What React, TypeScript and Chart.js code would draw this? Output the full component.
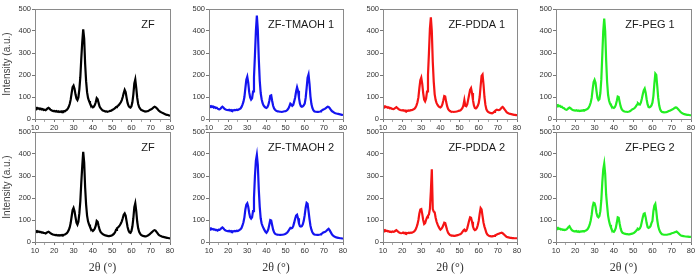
import { useEffect, useRef } from "react";
import { Chart, registerables } from "chart.js";

Chart.register(...registerables);

// Scan grid: 2θ from 10° to 80° in 0.5° steps
const SCAN_START = 10;
const SCAN_STEP = 0.5;

const yTicks = [0, 100, 200, 300, 400, 500];
const xTickLabels = [10, 20, 30, 40, 50, 60, 70, 80];

// Intensity (a.u.) per scan step
const zf1 = [
  52, 48, 51, 47, 49, 45, 47, 43, 45, 41,
  42, 40, 44, 48, 51, 47, 43, 40, 38, 36,
  37, 34, 36, 33, 35, 32, 34, 32, 35, 33,
  36, 35, 39, 41, 47, 55, 68, 88, 118, 145,
  152, 138, 112, 93, 86, 98, 135, 190, 275, 350,
  408, 365, 250, 172, 122, 96, 82, 71, 63, 57,
  53, 56, 63, 76, 95, 90, 72, 57, 49, 44,
  40, 38, 36, 34, 35, 33, 34, 35, 37, 38,
  41, 43, 46, 49, 54, 57, 60, 64, 70, 76,
  86, 100, 118, 132, 122, 96, 73, 60, 54, 52,
  58, 76, 112, 162, 180, 142, 96, 68, 54, 47,
  42, 40, 38, 36, 35, 34, 35, 36, 38, 41,
  43, 45, 49, 53, 56, 54, 50, 45, 40, 36,
  33, 30, 28, 26, 24, 22, 20, 19, 18, 16,
  15,
];

const tmaoh1 = [
  60, 57, 59, 55, 57, 52, 54, 50, 51, 47,
  45, 44, 47, 52, 56, 52, 47, 44, 42, 41,
  40, 42, 39, 41, 38, 40, 39, 41, 40, 42,
  41, 43, 45, 48, 55, 65, 78, 100, 140, 178,
  192, 165, 122, 98, 88, 94, 125, 190, 290, 400,
  470, 405, 275, 175, 118, 90, 72, 62, 56, 52,
  50, 54, 64, 82, 106, 108, 82, 60, 48, 42,
  38, 36, 35, 34, 33, 33, 32, 33, 34, 35,
  36, 38, 42, 48, 58, 70, 66, 60, 64, 80,
  98, 125, 144, 128, 96, 70, 58, 56, 58, 62,
  70, 96, 140, 188, 202, 160, 102, 68, 50, 40,
  35, 33, 33, 32, 32, 33, 34, 36, 39, 42,
  44, 46, 49, 53, 56, 55, 50, 44, 38, 34,
  31, 28, 26, 25, 24, 23, 22, 21, 20, 19,
  18,
];

const pdda1 = [
  60, 56, 58, 54, 55, 51, 53, 49, 50, 47,
  46, 45, 47, 51, 54, 50, 46, 43, 41, 40,
  39, 40, 37, 39, 36, 38, 37, 39, 38, 40,
  40, 42, 44, 47, 53, 62, 76, 98, 140, 176,
  188, 160, 118, 88, 80, 92, 125, 200, 300, 410,
  462, 400, 260, 170, 112, 86, 72, 64, 58, 54,
  52, 56, 66, 84, 104, 102, 78, 58, 46, 40,
  36, 34, 33, 33, 32, 33, 33, 34, 35, 37,
  38, 40, 44, 50, 62, 86, 60, 58, 66, 88,
  110, 132, 140, 118, 86, 62, 50, 48, 52, 60,
  72, 100, 150, 196, 202, 158, 100, 64, 44, 36,
  32, 30, 28, 27, 26, 28, 32, 36, 40, 42,
  41, 40, 42, 46, 52, 55, 50, 44, 38, 32,
  28, 26, 24, 23, 22, 21, 20, 19, 19, 18,
  18,
];

const peg1 = [
  65, 61, 63, 58, 60, 55, 56, 51, 50, 46,
  43, 42, 45, 49, 52, 49, 45, 42, 40, 39,
  38, 40, 37, 39, 36, 38, 37, 39, 38, 40,
  40, 42, 44, 47, 53, 62, 75, 96, 135, 168,
  178, 165, 128, 96, 86, 90, 118, 180, 290, 400,
  456, 400, 268, 168, 110, 84, 70, 62, 56, 52,
  50, 54, 64, 82, 102, 100, 78, 58, 46, 40,
  36, 34, 33, 33, 32, 33, 34, 36, 40, 44,
  46, 48, 52, 58, 66, 72, 68, 66, 74, 92,
  112, 130, 138, 120, 90, 66, 54, 53, 56, 62,
  74, 104, 160, 206, 200, 150, 96, 62, 44, 36,
  32, 31, 30, 30, 31, 32, 34, 36, 38, 40,
  42, 44, 47, 50, 53, 52, 48, 43, 38, 33,
  29, 26, 24, 22, 21, 20, 19, 19, 18, 17,
  17,
];

const zf2 = [
  51, 48, 50, 46, 48, 45, 46, 43, 44, 41,
  41, 39, 42, 45, 47, 44, 40, 37, 35, 33,
  33, 31, 32, 30, 31, 29, 31, 30, 32, 31,
  33, 34, 37, 40, 46, 54, 66, 86, 116, 145,
  155, 140, 113, 88, 79, 92, 130, 185, 270, 345,
  410, 362, 248, 170, 120, 94, 80, 69, 60, 54,
  50, 54, 61, 74, 96, 92, 73, 56, 46, 41,
  37, 34, 32, 30, 29, 28, 27, 27, 28, 29,
  31, 34, 38, 44, 55, 62, 66, 70, 76, 84,
  94, 108, 124, 130, 120, 94, 68, 52, 44, 42,
  50, 70, 108, 158, 176, 140, 92, 62, 46, 38,
  32, 30, 28, 27, 26, 26, 27, 29, 32, 36,
  40, 44, 48, 52, 54, 52, 46, 40, 34, 30,
  28, 26, 24, 23, 22, 21, 20, 19, 18, 17,
  16,
];

const tmaoh2 = [
  64, 60, 62, 58, 59, 56, 57, 54, 55, 52,
  56, 55, 58, 63, 66, 62, 57, 53, 51, 50,
  49, 51, 48, 50, 47, 49, 48, 50, 49, 51,
  50, 52, 55, 58, 64, 75, 90, 112, 148, 170,
  176, 160, 132, 112, 106, 112, 140, 200, 300, 370,
  396, 350, 240, 160, 108, 84, 72, 62, 54, 46,
  42, 48, 58, 78, 100, 98, 76, 56, 44, 38,
  35, 34, 33, 33, 32, 32, 33, 33, 34, 35,
  37, 40, 44, 50, 58, 64, 62, 64, 72, 88,
  106, 120, 124, 108, 84, 72, 70, 72, 80, 96,
  122, 156, 178, 174, 140, 104, 74, 56, 44, 38,
  34, 33, 33, 32, 32, 33, 34, 36, 38, 42,
  44, 46, 48, 52, 56, 60, 54, 46, 38, 32,
  28, 25, 23, 21, 20, 19, 18, 17, 17, 16,
  16,
];

const pdda2 = [
  56, 52, 54, 50, 51, 48, 49, 46, 47, 45,
  48, 46, 48, 51, 54, 50, 46, 43, 41, 40,
  41, 43, 40, 42, 39, 41, 40, 42, 41, 43,
  42, 44, 46, 50, 56, 66, 80, 100, 130, 148,
  150, 128, 100, 82, 86, 100, 112, 120, 125, 150,
  230, 330, 150, 138, 135, 110, 92, 80, 70, 62,
  56, 60, 66, 76, 88, 86, 70, 54, 42, 36,
  32, 30, 29, 29, 28, 28, 29, 30, 31, 33,
  34, 36, 40, 46, 52, 56, 50, 52, 62, 80,
  98, 112, 110, 92, 70, 58, 54, 56, 62, 76,
  96, 128, 154, 148, 118, 88, 70, 56, 42, 34,
  30, 28, 27, 26, 26, 27, 28, 30, 32, 34,
  36, 38, 40, 41, 42, 40, 36, 32, 28, 24,
  22, 21, 20, 19, 19, 18, 18, 17, 17, 17,
  17,
];

const peg2 = [
  66, 62, 64, 60, 61, 57, 58, 55, 56, 54,
  56, 58, 62, 68, 72, 64, 56, 52, 50, 48,
  48, 50, 47, 49, 46, 48, 47, 49, 48, 50,
  50, 52, 55, 60, 68, 80, 98, 124, 160, 178,
  176, 160, 132, 116, 112, 118, 140, 190, 270, 330,
  356, 310, 215, 165, 120, 95, 78, 66, 56, 48,
  46, 52, 64, 86, 112, 110, 84, 62, 48, 42,
  40, 38, 37, 36, 36, 35, 35, 36, 37, 38,
  40, 42, 46, 50, 56, 60, 58, 62, 72, 92,
  112, 128, 130, 112, 86, 68, 64, 66, 72, 86,
  96, 140, 165, 173, 140, 100, 72, 56, 46, 40,
  35, 34, 33, 33, 33, 33, 34, 35, 36, 38,
  40, 41, 42, 44, 46, 48, 44, 40, 35, 31,
  29, 28, 27, 26, 25, 25, 24, 24, 23, 23,
  24,
];

const sampleNames = ["ZF", "ZF-TMAOH 1", "ZF-PDDA 1", "ZF-PEG 1", "ZF", "ZF-TMAOH 2", "ZF-PDDA 2", "ZF-PEG 2"];
const sampleSeries = [zf1, tmaoh1, pdda1, peg1, zf2, tmaoh2, pdda2, peg2];
const columnColors = ["#000000", "#1414f0", "#f51414", "#22ee22"];

// Panel geometry (plot area in page pixels)
const COL_LEFT = [35, 209, 383, 556];
const COL_WIDTH = [135, 134, 134, 135];
const ROW_TOP = [9, 132];
const PLOT_H = 110;
const LABEL_CENTER = [0.837, 0.687, 0.7, 0.696];
const PAD_LEFT = 32;
const PAD_TOP = 6;
const PAD_RIGHT = 10;
const PAD_BOTTOM = 18;

const SANS = "'Liberation Sans', Arial, sans-serif";
const SERIF = "'Liberation Serif', 'Times New Roman', serif";

function Panel({ index }: { index: number }) {
  const ref = useRef<HTMLCanvasElement | null>(null);
  const col = index % 4;
  const row = Math.floor(index / 4);
  const w = COL_WIDTH[col] + PAD_LEFT + PAD_RIGHT;
  const h = PLOT_H + PAD_TOP + PAD_BOTTOM;

  useEffect(() => {
    const values = sampleSeries[index];
    const points = values.map((v, i) => ({ x: SCAN_START + i * SCAN_STEP, y: v }));
    const name = sampleNames[index];
    const labelFrac = LABEL_CENTER[col];

    const frameAndLabel = {
      id: "frameAndLabel",
      afterDraw(chart: Chart) {
        const { ctx, chartArea } = chart;
        ctx.save();
        ctx.strokeStyle = "#8a8a8a";
        ctx.lineWidth = 1;
        ctx.strokeRect(
          Math.round(chartArea.left) + 0.5,
          Math.round(chartArea.top) + 0.5,
          Math.round(chartArea.right - chartArea.left),
          Math.round(chartArea.bottom - chartArea.top)
        );
        ctx.fillStyle = "#1a1a1a";
        ctx.font = `11px ${SANS}`;
        ctx.textAlign = "center";
        ctx.textBaseline = "middle";
        ctx.fillText(name, chartArea.left + labelFrac * (chartArea.right - chartArea.left), chartArea.top + 16);
        ctx.restore();
      },
    };

    const chart = new Chart(ref.current as HTMLCanvasElement, {
      type: "line",
      data: {
        datasets: [
          {
            data: points,
            borderColor: columnColors[col],
            borderWidth: 2.2,
            pointRadius: 0,
            tension: 0,
            fill: false,
          },
        ],
      },
      options: {
        responsive: false,
        animation: false,
        events: [],
        layout: { padding: { top: PAD_TOP, right: PAD_RIGHT, left: 0, bottom: 0 } },
        plugins: { legend: { display: false }, tooltip: { enabled: false }, title: { display: false } },
        scales: {
          x: {
            type: "linear",
            min: 10,
            max: 80,
            afterFit: (s: any) => {
              s.height = PAD_BOTTOM;
            },
            afterBuildTicks: (s: any) => {
              s.ticks = [];
              for (let v = 10; v <= 80; v += 5) s.ticks.push({ value: v });
            },
            ticks: {
              autoSkip: false,
              maxRotation: 0,
              padding: 1,
              color: "#333",
              font: { size: 7.5, family: SANS },
              callback: (v: any) => (xTickLabels.includes(Number(v)) ? String(v) : ""),
            },
            grid: {
              drawOnChartArea: false,
              tickLength: 3,
              color: (c: any) => (c.tick && c.tick.value % 10 === 0 ? "#777" : "#aaa"),
            },
            border: { display: true, color: "#8a8a8a" },
          },
          y: {
            min: 0,
            max: 500,
            afterFit: (s: any) => {
              s.width = PAD_LEFT;
            },
            afterBuildTicks: (s: any) => {
              s.ticks = yTicks.map((v) => ({ value: v }));
            },
            ticks: {
              padding: 1,
              color: "#333",
              font: { size: 7.5, family: SANS },
            },
            grid: { drawOnChartArea: false, tickLength: 3, color: "#777" },
            border: { display: true, color: "#8a8a8a" },
          },
        },
      },
      plugins: [frameAndLabel],
    });
    return () => chart.destroy();
  }, [index, col]);

  return (
    <div
      style={{
        position: "absolute",
        left: COL_LEFT[col] - PAD_LEFT,
        top: ROW_TOP[row] - PAD_TOP,
        width: w,
        height: h,
      }}
    >
      <canvas ref={ref} width={w} height={h} style={{ width: w, height: h, display: "block" }} />
    </div>
  );
}

export default function App() {
  return (
    <div
      style={{
        position: "absolute",
        left: 0,
        top: 0,
        width: 696,
        height: 278,
        background: "#ffffff",
        overflow: "hidden",
      }}
    >
      {sampleSeries.map((_, i) => (
        <Panel key={i} index={i} />
      ))}
      {ROW_TOP.map((top, r) => (
        <div
          key={"yt" + r}
          style={{
            position: "absolute",
            left: 6,
            top: top + PLOT_H / 2,
            transform: "translate(-50%, -50%) rotate(-90deg)",
            whiteSpace: "nowrap",
            font: `10px ${SANS}`,
            color: "#444",
          }}
        >
          Intensity (a.u.)
        </div>
      ))}
      {COL_LEFT.map((left, c) => (
        <div
          key={"xt" + c}
          style={{
            position: "absolute",
            left: left + COL_WIDTH[c] / 2,
            top: 267,
            transform: "translate(-50%, -50%)",
            whiteSpace: "nowrap",
            font: `12px ${SERIF}`,
            color: "#333",
          }}
        >
          2θ (°)
        </div>
      ))}
    </div>
  );
}
